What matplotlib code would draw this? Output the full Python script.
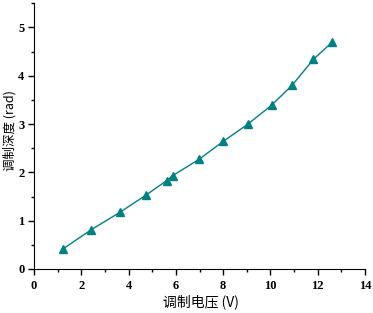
import matplotlib
matplotlib.use("Agg")
import matplotlib.pyplot as plt
from matplotlib.ticker import MultipleLocator

# modulation voltage (V) vs modulation depth (rad)
voltage = [1.21, 2.41, 3.62, 4.74, 5.61, 5.86, 6.98, 8.0, 9.05, 10.05, 10.93, 11.82, 12.62]
depth = [0.41, 0.81, 1.17, 1.53, 1.83, 1.93, 2.27, 2.64, 3.0, 3.39, 3.81, 4.34, 4.70]

plt.rcParams['font.family'] = ['Noto Sans CJK SC', 'DejaVu Sans']

fig = plt.figure(figsize=(3.73, 3.13), dpi=100)
ax = fig.add_axes([0.0912, 0.1406, 0.8874, 0.849])

ax.plot(voltage, depth, color='#008080', lw=1, marker='^', ms=5.5)

ax.set_xlim(0, 14)
ax.set_ylim(0, 5.5)
ax.xaxis.set_major_locator(MultipleLocator(2))
ax.xaxis.set_minor_locator(MultipleLocator(1))
ax.yaxis.set_major_locator(MultipleLocator(1))
ax.yaxis.set_minor_locator(MultipleLocator(0.5))
ax.spines['top'].set_visible(False)
ax.spines['right'].set_visible(False)
ax.tick_params(which='major', direction='out', length=4, width=1)
ax.tick_params(which='minor', direction='out', length=2, width=1)
ax.tick_params(axis='x', which='major', pad=4)
ax.tick_params(axis='y', which='major', pad=3)
for lab in ax.get_xticklabels() + ax.get_yticklabels():
    lab.set_fontfamily('Liberation Serif')
    lab.set_fontweight('bold')
    lab.set_fontsize(9)

fig.text(201 / 373, 1 - 302 / 313, '调制电压 (V)', fontsize=10, ha='center', va='center')
fig.text(10 / 373, 1 - 131 / 313, '调制深度 (rad)', fontsize=9, ha='center', va='center',
         rotation=90)

fig.savefig('out.png', dpi=100)
